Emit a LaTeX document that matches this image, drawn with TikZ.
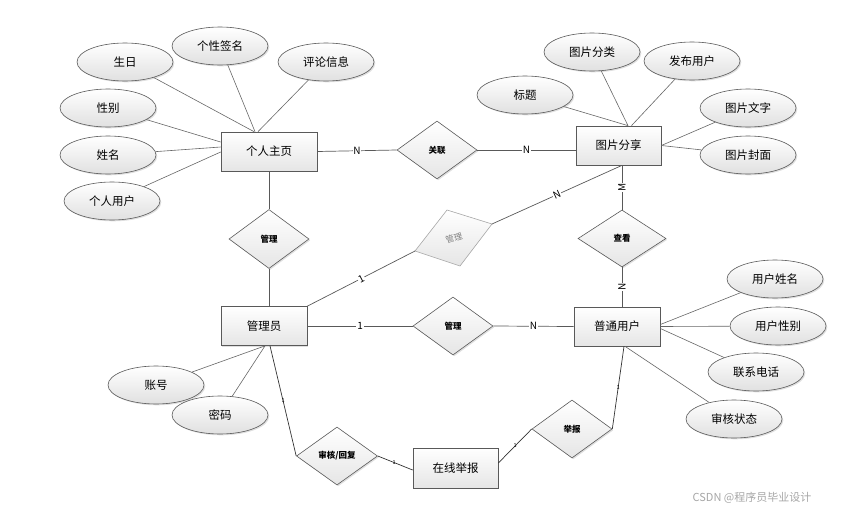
\documentclass[tikz,border=0pt]{standalone}
\usepackage{fontspec}
\setmainfont{Noto Sans CJK SC}
\usetikzlibrary{shapes.geometric,shadows,calc}
\begin{document}
\begin{tikzpicture}[x=1pt,y=-1pt,
  shd/.style={drop shadow={opacity=0.25, shadow xshift=1.3pt, shadow yshift=-1.3pt}},
  ent/.style={rectangle, draw=black!65, line width=0.7pt, top color=white, bottom color=black!10, minimum width=86pt, minimum height=39pt, inner sep=0pt, font=\fontsize{11.5}{13}\selectfont, shd},
  attr/.style={ellipse, draw=black!65, line width=0.6pt, top color=white, bottom color=black!12, minimum width=96pt, minimum height=38pt, inner sep=0pt, font=\fontsize{11.5}{13}\selectfont, shd},
  rel/.style={diamond, draw=black!65, line width=0.6pt, top color=white, bottom color=black!10, minimum width=80pt, minimum height=58pt, inner sep=0pt, font=\fontsize{8.5}{10}\selectfont\bfseries, shd},
  ln/.style={draw=black!65, line width=0.7pt},
  aln/.style={draw=black!60, line width=0.6pt},
  card/.style={fill=white, inner sep=0.8pt, font=\fontsize{10}{11}\selectfont},
  tick/.style={inner sep=0pt, font=\fontsize{5.5}{6}\selectfont},
]
\useasboundingbox (0,0) rectangle (846,514);

% entities
\node[ent, minimum width=96pt] (zy) at (269,151.5) {个人主页};
\node[ent, minimum width=85pt] (tp) at (618.5,145.5) {图片分享};
\node[ent] (gly) at (264,326) {管理员};
\node[ent] (pt) at (617,326.5) {普通用户};
\node[ent, minimum width=85pt, minimum height=40pt] (zx) at (455.5,468) {在线举报};

% attributes
\node[attr] (sr) at (125,62) {生日};
\node[attr] (gx) at (220,46) {个性签名};
\node[attr] (pl) at (326,62) {评论信息};
\node[attr] (xb) at (108,108) {性别};
\node[attr] (xm) at (108,155) {姓名};
\node[attr] (gr) at (112,201) {个人用户};
\node[attr] (bt) at (525,95) {标题};
\node[attr] (fl) at (592,52) {图片分类};
\node[attr] (fb) at (692,61) {发布用户};
\node[attr] (wz) at (748,108) {图片文字};
\node[attr] (fm) at (748,155) {图片封面};
\node[attr] (zh) at (156,385) {账号};
\node[attr] (mm) at (220,415) {密码};
\node[attr] (yx) at (775,279) {用户姓名};
\node[attr] (yb) at (778,326) {用户性别};
\node[attr] (dh) at (756,372) {联系电话};
\node[attr] (zt) at (734,419) {审核状态};

% relationships
\node[rel, minimum height=59pt] (gl1) at (269,239) {管理};
\node[rel] (gl) at (437,150) {关联};
\node[rel] (gl2) at (453,326) {管理};
\node[rel, minimum width=88pt, minimum height=57pt] (ck) at (622,238.5) {查看};
\node[rel, minimum width=81pt] (sh) at (337,456) {审核/回复};
\node[rel] (jb) at (572,429) {举报};

% tilted grey relationship
\coordinate (gL) at (415,251);
\coordinate (gT) at (447,210);
\coordinate (gR) at (492,224);
\coordinate (gB) at (460,266);
\draw[draw=black!35, line width=0.6pt, top color=white, bottom color=black!10] (gL) -- (gT) -- (gR) -- (gB) -- cycle;
\node[text=black!50, rotate=18, inner sep=0pt, font=\fontsize{8.5}{10}\selectfont] (gm) at (454,238) {管理};

% attribute lines
\draw[aln] (sr) -- ([xshift=-15pt]zy.north);
\draw[aln] (gx) -- ([xshift=-14pt]zy.north);
\draw[aln] (pl) -- ([xshift=-11pt]zy.north);
\draw[aln] (xb) -- ([yshift=9.5pt]zy.west);
\draw[aln] (xm) -- ([yshift=4.5pt]zy.west);
\draw[aln] (gr) -- ([yshift=-0.5pt]zy.west);

\draw[aln] (bt) -- ([xshift=9.5pt]tp.north);
\draw[aln] (fl) -- ([xshift=9.5pt]tp.north);
\draw[aln] (fb) -- ([xshift=13pt]tp.north);
\draw[aln] (wz) -- (tp.east);
\draw[aln] (fm) -- (tp.east);

\draw[aln] (zh) -- ([xshift=1pt]gly.south);
\draw[aln] (mm) -- ([xshift=1pt]gly.south);

\draw[aln] (yx) -- ([yshift=2pt]pt.east);
\draw[aln] (yb) -- (pt.east);
\draw[aln] (dh) -- ([yshift=-2pt]pt.east);
\draw[aln] (zt) -- ([xshift=8pt]pt.south);

% relationship lines
\draw[ln] (zy.east) -- node[card] {N} (gl.west);
\draw[ln] (gl.east) -- node[card] {N} (gl.east -| tp.west);
\draw[ln] (zy.south) -- (gl1.north);
\draw[ln] (gl1.south) -- (gl1.south |- gly.north);
\draw[ln] (gly.north east) -- node[card, sloped] {1} (gL);
\draw[ln] (gR) -- node[card, sloped] {N} (ck.north |- tp.south);
\draw[ln] (ck.north |- tp.south) -- node[card, rotate=90] {M} (ck.north);
\draw[ln] (ck.south) -- node[card, rotate=90] {N} (ck.south |- pt.north);
\draw[ln] (gly.east) -- node[card] {1} (gl2.west);
\draw[ln] (gl2.east) -- node[card] {N} (pt.west);

\draw[ln, draw=black!80] ([xshift=6pt]gly.south) -- node[tick] {1} (sh.west);
\draw[ln, draw=black!80] (sh.east) -- node[tick, pos=0.47] {1} ([yshift=-2pt]zx.west);
\draw[ln, draw=black!80] ([yshift=5pt]zx.east) -- node[tick] {1} (jb.west);
\draw[ln, draw=black!80] (jb.east) -- node[tick] {1} ([xshift=7pt]pt.south);

% watermark
\node[text=black!35, font=\fontsize{11}{13}\selectfont] (wm) at (752,498) {CSDN @程序员毕业设计};
\end{tikzpicture}
\end{document}
